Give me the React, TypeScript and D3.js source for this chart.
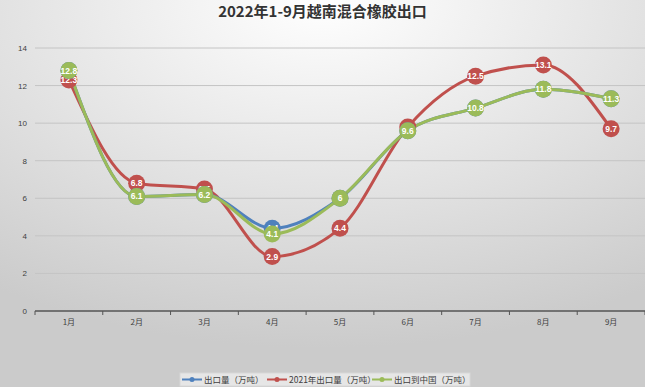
import React, { useRef, useEffect } from "react";
import * as d3 from "d3";

const months = ["1月", "2月", "3月", "4月", "5月", "6月", "7月", "8月", "9月"];
const exportVol = [12.8, 6.1, 6.2, 4.4, 6, 9.6, 10.8, 11.8, 11.3];
const export2021 = [12.3, 6.8, 6.5, 2.9, 4.4, 9.8, 12.5, 13.1, 9.7];
const exportChina = [12.8, 6.1, 6.2, 4.1, 6, 9.6, 10.8, 11.8, 11.3];
const yTicks = [0, 2, 4, 6, 8, 10, 12, 14];

const series = [
  { name: "出口量（万吨）", color: "#4f81bd", values: exportVol },
  { name: "2021年出口量（万吨）", color: "#c0504d", values: export2021 },
  { name: "出口到中国（万吨）", color: "#9bbb59", values: exportChina },
];

const W = 645;
const H = 387;

const App = () => {
  const ref = useRef<SVGSVGElement>(null);

  useEffect(() => {
    if (!ref.current) return;
    const svg = d3.select(ref.current);
    svg.selectAll("*").remove();

    const margin = { top: 48, right: 0, bottom: 76, left: 35 };
    const width = W - margin.left - margin.right;
    const height = H - margin.top - margin.bottom;

    // background gradient
    const defs = svg.append("defs");
    const grad = defs
      .append("radialGradient")
      .attr("id", "bg")
      .attr("cx", "50%")
      .attr("cy", "0%")
      .attr("r", "90%");
    grad.append("stop").attr("offset", "0%").attr("stop-color", "#ffffff");
    grad.append("stop").attr("offset", "100%").attr("stop-color", "#cbcbcb");
    svg.append("rect").attr("width", W).attr("height", H).attr("fill", "url(#bg)");

    svg
      .append("text")
      .attr("x", W / 2)
      .attr("y", 17)
      .attr("text-anchor", "middle")
      .attr("font-family", "Noto Sans CJK SC, sans-serif")
      .attr("font-size", 15)
      .attr("font-weight", "bold")
      .attr("fill", "#333")
      .text("2022年1-9月越南混合橡胶出口");

    const x = d3.scaleBand().domain(months).range([0, width]);
    const y = d3.scaleLinear().domain([0, 14]).range([height, 0]);

    const g = svg
      .append("g")
      .attr("transform", `translate(${margin.left},${margin.top})`);

    // gridlines
    g.selectAll("line.grid")
      .data(yTicks.filter((t) => t > 0))
      .enter()
      .append("line")
      .attr("x1", 0)
      .attr("x2", width)
      .attr("y1", (d) => y(d))
      .attr("y2", (d) => y(d))
      .attr("stroke", "#c4c4c4")
      .attr("stroke-width", 1);

    // y labels
    g.selectAll("text.ylab")
      .data(yTicks)
      .enter()
      .append("text")
      .attr("x", -8)
      .attr("y", (d) => y(d) + 3)
      .attr("text-anchor", "end")
      .attr("font-family", "Liberation Sans, sans-serif")
      .attr("font-size", 8)
      .attr("fill", "#404040")
      .text((d) => d);

    // x axis
    g.append("line")
      .attr("x1", 0)
      .attr("x2", width)
      .attr("y1", height)
      .attr("y2", height)
      .attr("stroke", "#555")
      .attr("stroke-width", 1.5);
    g.selectAll("line.tick")
      .data(d3.range(months.length + 1))
      .enter()
      .append("line")
      .attr("x1", (i) => i * x.bandwidth())
      .attr("x2", (i) => i * x.bandwidth())
      .attr("y1", height)
      .attr("y2", height + 4)
      .attr("stroke", "#555");
    g.selectAll("text.xlab")
      .data(months)
      .enter()
      .append("text")
      .attr("x", (d) => x(d)! + x.bandwidth() / 2)
      .attr("y", height + 14)
      .attr("text-anchor", "middle")
      .attr("font-family", "Noto Sans CJK SC, sans-serif")
      .attr("font-size", 8)
      .attr("fill", "#404040")
      .text((d) => d);

    const cx = (i: number) => x(months[i])! + x.bandwidth() / 2;
    const line = d3
      .line<number>()
      .x((_, i) => cx(i))
      .y((d) => y(d))
      .curve(d3.curveMonotoneX);

    // red first, then blue, then green on top
    const order = [1, 0, 2];
    order.forEach((k) => {
      const s = series[k];
      g.append("path")
        .datum(s.values)
        .attr("d", line)
        .attr("fill", "none")
        .attr("stroke", s.color)
        .attr("stroke-width", 3);
    });
    order.forEach((k) => {
      const s = series[k];
      const pts = g.append("g");
      pts
        .selectAll("circle")
        .data(s.values)
        .enter()
        .append("circle")
        .attr("cx", (_, i) => cx(i))
        .attr("cy", (d) => y(d))
        .attr("r", 8.5)
        .attr("fill", s.color);
      pts
        .selectAll("text")
        .data(s.values)
        .enter()
        .append("text")
        .attr("x", (_, i) => cx(i))
        .attr("y", (d) => y(d) + 3)
        .attr("text-anchor", "middle")
        .attr("font-family", "Liberation Sans, sans-serif")
        .attr("font-size", 8.5)
        .attr("font-weight", "bold")
        .attr("fill", "#fff")
        .text((d) => d);
    });

    // legend
    const lg = svg.append("g").attr("transform", "translate(180,373)");
    lg.append("rect")
      .attr("width", 290)
      .attr("height", 13)
      .attr("fill", "#e6e6e6")
      .attr("stroke", "#d8d8d8");
    const offsets = [2, 87, 192];
    series.forEach((s, i) => {
      const item = lg.append("g").attr("transform", `translate(${offsets[i]},6.5)`);
      item
        .append("line")
        .attr("x1", 0)
        .attr("x2", 20)
        .attr("stroke", s.color)
        .attr("stroke-width", 2);
      item.append("circle").attr("cx", 10).attr("r", 2.5).attr("fill", s.color);
      item
        .append("text")
        .attr("x", 22)
        .attr("y", 3)
        .attr("font-family", "Noto Sans CJK SC, sans-serif")
        .attr("font-size", 8.5)
        .attr("fill", "#404040")
        .text(s.name);
    });
  }, []);

  return (
    <svg
      ref={ref}
      width={W}
      height={H}
      style={{ position: "absolute", left: 0, top: 0, display: "block" }}
    />
  );
};

export default App;
